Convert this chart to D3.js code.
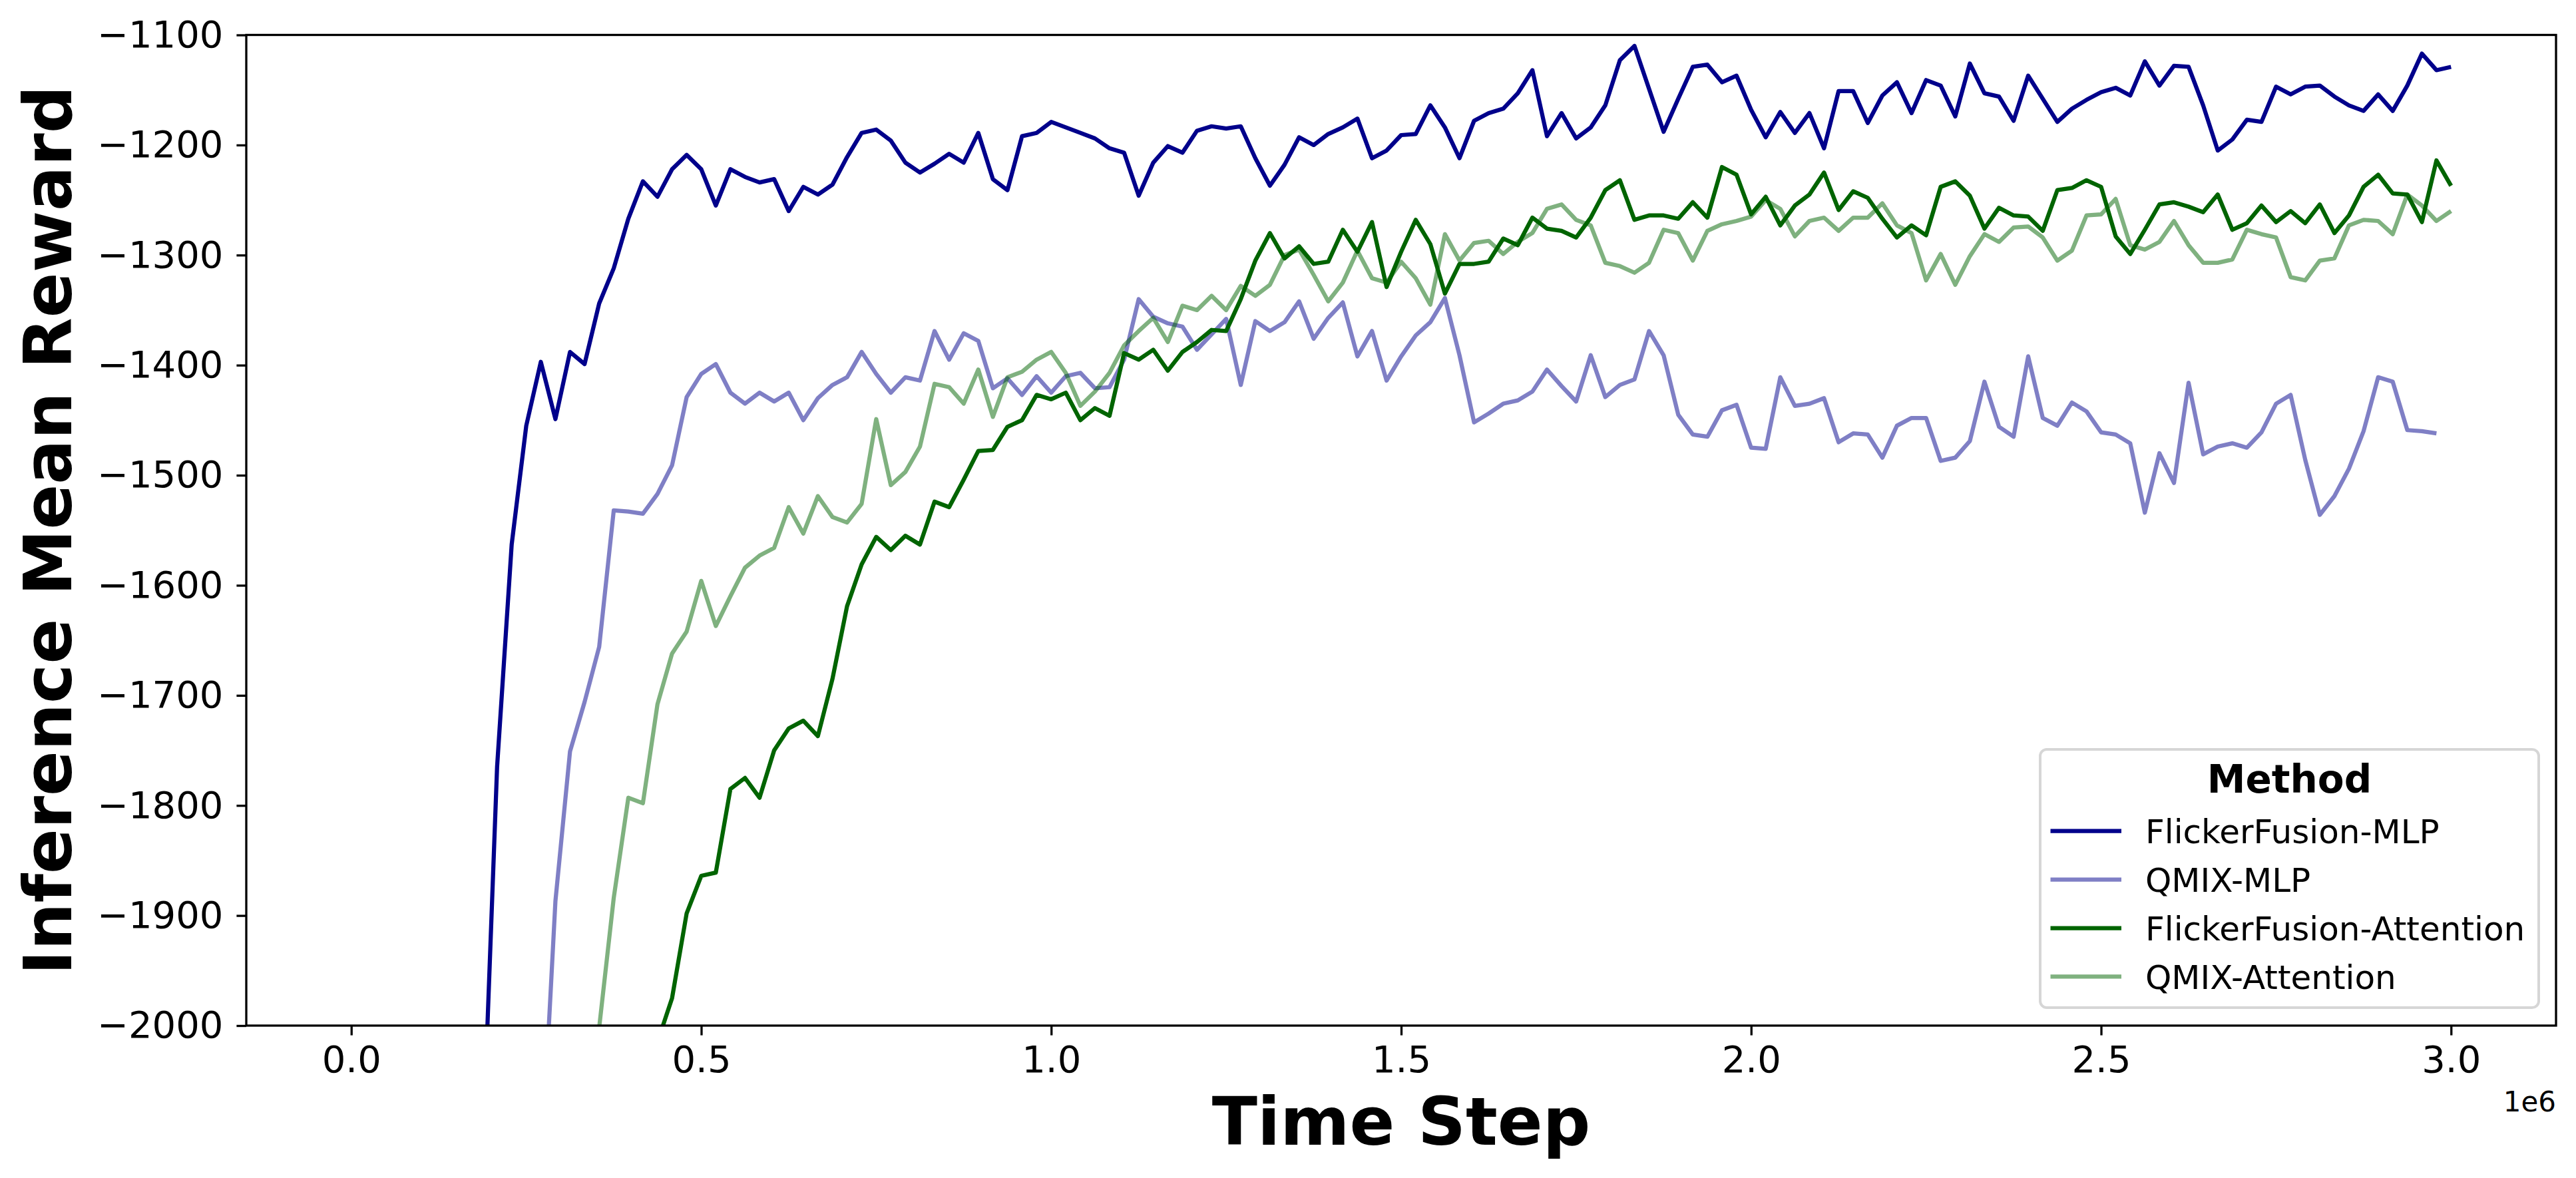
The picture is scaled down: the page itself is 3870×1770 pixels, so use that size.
<!DOCTYPE html>
<html>
<head>
<meta charset="utf-8">
<script src="https://cdn.jsdelivr.net/npm/d3@7"></script>
<style>
  body { margin: 0; background: #fff; }
  text { font-family: "DejaVu Sans", sans-serif; }
</style>
</head>
<body>
<div id="plot"></div>
<script>
// evaluation points: 145 checkpoints spread evenly over 0 .. 3e6 steps
const numPoints = 145;
const maxStep = 3e6;

// inference mean reward per checkpoint (values under -2000 are off the chart)
const flickerMLP = [
  -2650, -2610, -2570, -2520, -2460, -2400, -2330, -2260, -2190, -2120,
  -1765, -1563, -1455, -1397, -1449, -1388, -1399, -1344, -1312, -1267,
  -1233, -1247, -1222, -1209, -1222, -1255, -1222, -1229, -1234, -1231,
  -1260, -1238, -1245, -1236, -1211, -1189, -1186, -1196, -1216, -1225,
  -1217, -1208, -1216, -1189, -1231, -1241, -1192, -1189, -1179, -1184,
  -1189, -1194, -1203, -1207, -1246, -1216, -1201, -1207, -1187, -1183,
  -1185, -1183, -1212, -1237, -1218, -1193, -1200, -1190, -1184, -1176,
  -1212, -1205, -1191, -1190, -1164, -1184, -1212, -1178, -1171, -1167,
  -1153, -1132, -1192, -1171, -1194, -1184, -1164, -1123, -1110, -1149,
  -1188, -1158, -1129, -1127, -1143, -1137, -1168, -1193, -1170, -1189,
  -1171, -1203, -1151, -1151, -1180, -1155, -1143, -1171, -1141, -1146,
  -1174, -1126, -1153, -1156, -1178, -1137, -1158, -1179, -1167, -1159,
  -1152, -1148, -1155, -1124, -1146, -1128, -1129, -1164, -1205, -1195,
  -1177, -1179, -1147, -1154, -1147, -1146, -1156, -1164, -1169, -1154,
  -1169, -1146, -1117, -1132, -1129
];

const qmixMLP = [
  -2700, -2660, -2620, -2580, -2540, -2490, -2450, -2400, -2360, -2320,
  -2280, -2230, -2190, -2138, -1887, -1751, -1706, -1656, -1532, -1533,
  -1535, -1517, -1491, -1429, -1408, -1399, -1425, -1435, -1425, -1433,
  -1425, -1450, -1430, -1418, -1411, -1388, -1408, -1425, -1411, -1414,
  -1369, -1395, -1371, -1378, -1421, -1412, -1427, -1410, -1425, -1410,
  -1407, -1421, -1420, -1395, -1340, -1356, -1362, -1365, -1386, -1372,
  -1358, -1418, -1360, -1369, -1361, -1342, -1376, -1357, -1343, -1392,
  -1369, -1414, -1392, -1373, -1361, -1339, -1391, -1452, -1444, -1435,
  -1432, -1424, -1404, -1419, -1433, -1391, -1429, -1418, -1413, -1369,
  -1391, -1445, -1463, -1465, -1441, -1436, -1475, -1476, -1411, -1437,
  -1435, -1430, -1470, -1462, -1463, -1484, -1455, -1448, -1448, -1487,
  -1484, -1469, -1415, -1456, -1465, -1392, -1448, -1455, -1434, -1442,
  -1461, -1463, -1471, -1534, -1480, -1507, -1416, -1481, -1474, -1471,
  -1475, -1461, -1435, -1427, -1486, -1536, -1519, -1494, -1460, -1411,
  -1415, -1459, -1460, -1462
];

const flickerAttention = [
  -2900, -2870, -2840, -2800, -2760, -2720, -2680, -2640, -2600, -2560,
  -2520, -2480, -2440, -2400, -2360, -2320, -2280, -2240, -2200, -2150,
  -2100, -2015, -1975, -1898, -1864, -1861, -1785, -1775, -1793, -1750,
  -1730, -1723, -1737, -1685, -1619, -1581, -1556, -1568, -1555, -1563,
  -1524, -1529, -1504, -1478, -1477, -1456, -1450, -1427, -1431, -1425,
  -1450, -1439, -1446, -1389, -1395, -1386, -1405, -1388, -1379, -1368,
  -1369, -1340, -1305, -1280, -1303, -1292, -1308, -1306, -1277, -1297,
  -1270, -1329, -1297, -1268, -1290, -1335, -1308, -1308, -1306, -1285,
  -1291, -1266, -1276, -1278, -1284, -1266, -1241, -1232, -1268, -1264,
  -1264, -1267, -1252, -1266, -1220, -1227, -1263, -1247, -1273, -1255,
  -1245, -1225, -1259, -1242, -1248, -1267, -1284, -1273, -1282, -1238,
  -1233, -1246, -1276, -1257, -1264, -1265, -1278, -1241, -1239, -1232,
  -1238, -1283, -1299, -1277, -1254, -1252, -1256, -1261, -1245, -1277,
  -1271, -1255, -1270, -1260, -1271, -1254, -1280, -1264, -1238, -1227,
  -1244, -1245, -1270, -1214, -1237
];

const qmixAttention = [
  -2800, -2760, -2720, -2680, -2640, -2600, -2560, -2520, -2480, -2440,
  -2400, -2370, -2340, -2310, -2280, -2260, -2250, -2002, -1884, -1793,
  -1798, -1708, -1662, -1642, -1596, -1637, -1610, -1584, -1573, -1566,
  -1529, -1553, -1519, -1538, -1543, -1526, -1449, -1509, -1497, -1474,
  -1417, -1420, -1435, -1404, -1447, -1411, -1406, -1395, -1388, -1407,
  -1437, -1424, -1407, -1382, -1369, -1357, -1379, -1346, -1350, -1337,
  -1350, -1328, -1337, -1327, -1300, -1295, -1318, -1342, -1325, -1296,
  -1321, -1325, -1306, -1321, -1345, -1281, -1305, -1289, -1287, -1299,
  -1288, -1280, -1258, -1254, -1268, -1273, -1307, -1310, -1316, -1307,
  -1277, -1280, -1305, -1278, -1272, -1269, -1265, -1250, -1258, -1283,
  -1269, -1266, -1278, -1266, -1266, -1253, -1273, -1280, -1323, -1299,
  -1327, -1301, -1281, -1288, -1275, -1274, -1284, -1305, -1296, -1264,
  -1263, -1249, -1291, -1295, -1288, -1269, -1291, -1307, -1307, -1304,
  -1277, -1281, -1284, -1320, -1323, -1305, -1303, -1273, -1268, -1269,
  -1281, -1245, -1255, -1269, -1260
];

const methodNames = ["FlickerFusion-MLP", "QMIX-MLP", "FlickerFusion-Attention", "QMIX-Attention"];
const methodColors = ["#00008b", "#00008b", "#006400", "#006400"];
const methodOpacity = [1, 0.5, 1, 0.5];
const methodValues = [flickerMLP, qmixMLP, flickerAttention, qmixAttention];

const xTicks = [0, 0.5e6, 1.0e6, 1.5e6, 2.0e6, 2.5e6, 3.0e6];
const yTicks = [-2000, -1900, -1800, -1700, -1600, -1500, -1400, -1300, -1200, -1100];

const stepSize = maxStep / (numPoints - 1);

const margin = { top: 52.5, right: 30, bottom: 229, left: 370 };
const width = 3870 - margin.left - margin.right;
const height = 1770 - margin.top - margin.bottom;

const svg = d3.select("div#plot")
  .append("svg")
  .attr("width", width + margin.left + margin.right)
  .attr("height", height + margin.top + margin.bottom)
  .append("g")
  .attr("transform", `translate(${margin.left},${margin.top})`);

const xScale = d3.scaleLinear()
  .domain([-0.15e6, 3.15e6])
  .range([0, width]);

const yScale = d3.scaleLinear()
  .domain([-2000, -1100])
  .range([height, 0]);

svg.append("clipPath")
  .attr("id", "plot-clip")
  .append("rect")
  .attr("width", width)
  .attr("height", height);

const line = d3.line()
  .x((d, i) => xScale(i * stepSize))
  .y(d => yScale(d));

svg.append("g")
  .attr("clip-path", "url(#plot-clip)")
  .selectAll("path")
  .data(methodValues)
  .enter().append("path")
  .attr("d", d => line(d))
  .attr("fill", "none")
  .attr("stroke", (d, i) => methodColors[i])
  .attr("stroke-opacity", (d, i) => methodOpacity[i])
  .attr("stroke-width", 6.25)
  .attr("stroke-linejoin", "round");

// axes
const xAxis = svg.append("g")
  .attr("transform", `translate(0,${height})`)
  .call(d3.axisBottom(xScale)
    .tickValues(xTicks)
    .tickFormat(d => (d / 1e6).toFixed(1))
    .tickSize(14.6)
    .tickSizeOuter(0)
    .tickPadding(16));

const yAxis = svg.append("g")
  .call(d3.axisLeft(yScale)
    .tickValues(yTicks)
    .tickFormat(d3.format("d"))
    .tickSize(14.6)
    .tickSizeOuter(0)
    .tickPadding(20));

[xAxis, yAxis].forEach(ax => {
  ax.select(".domain").remove();
  ax.selectAll(".tick line").attr("stroke", "#000").attr("stroke-width", 3.3);
  ax.selectAll(".tick text")
    .attr("fill", "#000")
    .style("font-family", "DejaVu Sans")
    .style("font-size", "56px");
});

svg.append("rect")
  .attr("width", width)
  .attr("height", height)
  .attr("fill", "none")
  .attr("stroke", "#000")
  .attr("stroke-width", 3.3);

// axis labels
svg.append("text")
  .attr("x", width / 2)
  .attr("y", 1720 - margin.top)
  .attr("text-anchor", "middle")
  .style("font-size", "100px")
  .style("font-weight", "bold")
  .text("Time Step");

svg.append("text")
  .attr("transform", `translate(${107 - margin.left},${height / 2}) rotate(-90)`)
  .attr("text-anchor", "middle")
  .style("font-size", "100px")
  .style("font-weight", "bold")
  .text("Inference Mean Reward");

svg.append("text")
  .attr("x", width)
  .attr("y", 1670 - margin.top)
  .attr("text-anchor", "end")
  .style("font-size", "42px")
  .text("1e6");

// legend
const legend = svg.append("g")
  .attr("transform", `translate(${3065 - margin.left},${1126 - margin.top})`);

legend.append("rect")
  .attr("width", 749)
  .attr("height", 388)
  .attr("rx", 10)
  .attr("fill", "#fff")
  .attr("fill-opacity", 0.8)
  .attr("stroke", "#d6d6d6")
  .attr("stroke-width", 4);

legend.append("text")
  .attr("x", 374.5)
  .attr("y", 65)
  .attr("text-anchor", "middle")
  .style("font-size", "58px")
  .style("font-weight", "bold")
  .text("Method");

const items = legend.selectAll(".item")
  .data(methodNames)
  .enter().append("g")
  .attr("class", "item")
  .attr("transform", (d, i) => `translate(0,${122.7 + i * 72.9})`);

items.append("line")
  .attr("x1", 15.5)
  .attr("x2", 122)
  .attr("stroke", (d, i) => methodColors[i])
  .attr("stroke-opacity", (d, i) => methodOpacity[i])
  .attr("stroke-width", 6.25);

items.append("text")
  .attr("x", 158)
  .attr("y", 18.5)
  .style("font-size", "50px")
  .text(d => d);
</script>
</body>
</html>
